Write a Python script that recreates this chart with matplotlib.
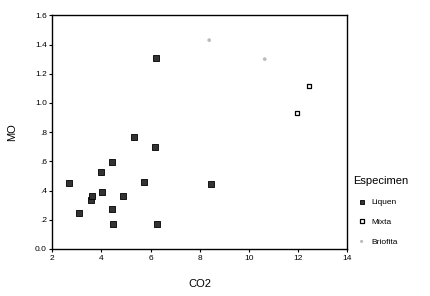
import matplotlib
matplotlib.use('Agg')
from matplotlib import pyplot as plt

plt.rcParams['font.family'] = ['Liberation Sans', 'DejaVu Sans']

# datos
liquen_co2 = [2.68, 3.09, 3.57, 3.62, 4.02, 3.98, 4.43, 4.43, 4.47, 4.88, 5.72, 6.18, 6.26, 8.44, 5.32, 6.22]
liquen_mo = [0.45, 0.244, 0.338, 0.361, 0.393, 0.525, 0.598, 0.274, 0.169, 0.361, 0.461, 0.70, 0.169, 0.445, 0.765, 1.306]
mixta_co2 = [12.43, 11.94]
mixta_mo = [1.118, 0.934]
briofita_co2 = [8.38, 10.64]
briofita_mo = [1.43, 1.30]

xticks = [2, 4, 6, 8, 10, 12, 14]
yticks = [0.0, 0.2, 0.4, 0.6, 0.8, 1.0, 1.2, 1.4, 1.6]
ylabels = ['0.0', '.2', '.4', '.6', '.8', '1.0', '1.2', '1.4', '1.6']

fig = plt.figure(figsize=(4.31, 2.96), dpi=100)
ax = fig.add_axes([0.1214, 0.1588, 0.6845, 0.7895])

ax.scatter(liquen_co2, liquen_mo, marker='s', s=14, color='#333333', edgecolors='black', linewidths=0.6, label='Liquen')
ax.scatter(mixta_co2, mixta_mo, marker='s', s=10, color='white', edgecolors='black', linewidths=0.9, label='Mixta')
ax.scatter(briofita_co2, briofita_mo, marker='o', s=7, color='#bbbbbb', edgecolors='none', label='Briofita')

ax.set_xlim(2, 14)
ax.set_ylim(0, 1.6)
ax.set_xticks(xticks)
ax.set_yticks(yticks)
ax.set_yticklabels(ylabels)
ax.tick_params(labelsize=6, length=2.5, width=0.8, pad=1.5)
for s in ax.spines.values():
    s.set_linewidth(1.0)

ax.set_xlabel('CO2', fontsize=8)
ax.set_ylabel('MO', fontsize=8)
ax.xaxis.set_label_coords(0.5, -0.13)
ax.yaxis.set_label_coords(-0.12, 0.5)

leg = ax.legend(title='Especimen', loc='upper left', bbox_to_anchor=(0.81, 0.42),
                bbox_transform=fig.transFigure, frameon=False, fontsize=6,
                title_fontsize=8, labelspacing=1.45, handletextpad=0.2, borderpad=0,
                markerscale=0.85)
leg._legend_box.align = 'left'

plt.savefig('out.png', dpi=100)
